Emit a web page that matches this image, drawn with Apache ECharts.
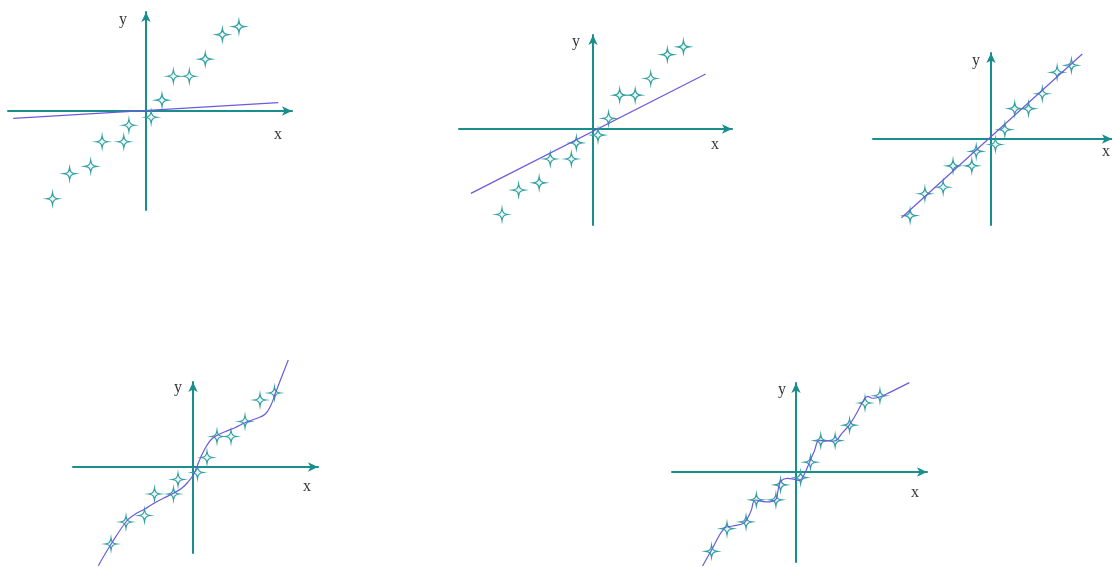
<!DOCTYPE html>
<html>
<head>
<meta charset="utf-8">
<script src="https://cdn.jsdelivr.net/npm/echarts@6/dist/echarts.min.js"></script>
<style>
  html, body { margin: 0; padding: 0; background: #ffffff; }
  #chart { width: 1112px; height: 567px; }
</style>
</head>
<body>
<div id="chart"></div>
<script>
// Training samples, shared by all five fits
const sampleX = [-8.2, -6.7, -4.85, -3.85, -1.95, -1.5, 0.45, 1.4, 2.4, 3.8, 5.2, 6.7, 8.15];
const sampleY = [-7.7, -5.5, -4.85, -2.7, -2.7, -1.25, -0.55, 0.95, 3.05, 3.05, 4.55, 6.7, 7.4];

// Fitted models: [x, y] pairs along each fitted curve
const fitFlat = [[-11.65, -0.64], [11.6, 0.73]];
const fitShallow = [[-11.0, -5.8], [10.15, 4.95]];
const fitLinear = [[-9.08, -7.91], [9.25, 8.54]];
const fitCubic = [
  [-9.47, -9.87], [-8.2, -7.73], [-6.63, -5.4], [-5.8, -4.73], [-4.8, -4.2],
  [-3.9, -3.63], [-2.97, -3.13], [-1.97, -2.63], [-1.13, -2.13], [-0.47, -1.47],
  [0.03, -0.8], [0.3, -0.2], [0.87, 1.2], [1.37, 2.13], [1.87, 2.8], [2.47, 3.2],
  [3.2, 3.53], [4.2, 3.93], [5.2, 4.43], [6.2, 4.8], [7.2, 5.27], [7.8, 6.2],
  [8.2, 7.27], [8.87, 9.03], [9.53, 10.7]
];
const fitWiggly = [
  [-9.07, -9.13], [-8.25, -7.67], [-6.96, -5.47], [-6.16, -5.24], [-5.02, -4.92],
  [-4.37, -3.79], [-3.95, -2.72], [-2.91, -2.91], [-2.01, -2.72], [-1.69, -1.52],
  [-1.46, -0.87], [-0.82, -0.61], [-0.17, -0.71], [0.32, -0.81], [0.81, -0.22],
  [1.29, 0.91], [1.78, 2.04], [2.26, 3.08], [3.07, 3.01], [3.72, 3.01],
  [4.52, 3.83], [5.17, 4.56], [5.83, 5.6], [6.53, 6.89], [6.95, 7.35],
  [7.44, 7.16], [8.09, 7.28], [9.06, 7.71], [11.0, 8.68]
];

const axisNames = ['x', 'y'];

// Layout of each panel: axis extents in px, origin in px, px per unit,
// and label offsets from the arrow tips
const panels = [
  { left: 8,   right: 292,  top: 12,  bottom: 210, ox: 146, oy: 111, k: 11.4, fit: fitFlat,    smooth: false, xLab: [-14, 24], yLab: [-23, 8] },
  { left: 459, right: 732,  top: 35,  bottom: 225, ox: 593, oy: 129, k: 11.1, fit: fitShallow, smooth: false, xLab: [-17, 16], yLab: [-17, 7] },
  { left: 873, right: 1114, top: 53,  bottom: 225, ox: 992, oy: 139, k: 9.95, fit: fitLinear,  smooth: false, xLab: [-6, 13],  yLab: [-15, 8] },
  { left: 73,  right: 318,  top: 382, bottom: 553, ox: 193, oy: 467, k: 10,   fit: fitCubic,   smooth: 0.4,   xLab: [-11, 20], yLab: [-15, 6] },
  { left: 672, right: 927,  top: 383, bottom: 562, ox: 796, oy: 472, k: 10.3, fit: fitWiggly,  smooth: 0.4,   xLab: [-12, 21], yLab: [-14, 7] }
];

const AXIS_COLOR = '#1a8d8d';
const FIT_COLOR = '#6b5bdc';
const STAR = 'path://M0,-10 C1,-3 3,-1 10,0 C3,1 1,3 0,10 C-1,3 -3,1 -10,0 C-3,-1 -1,-3 0,-10 Z';

const samples = sampleX.map((x, i) => [x, sampleY[i]]);

const grid = [], xAxis = [], yAxis = [], series = [];

panels.forEach((p, i) => {
  p.xMin = (p.left - p.ox) / p.k;
  p.xMax = (p.right - p.ox) / p.k;
  p.yMin = (p.oy - p.bottom) / p.k;
  p.yMax = (p.oy - p.top) / p.k;
  grid.push({ left: p.left, top: p.top, width: p.right - p.left, height: p.bottom - p.top, containLabel: false });
  const axisLine = { show: true, onZero: true, symbol: ['none', 'arrow'], symbolSize: [7, 10], lineStyle: { color: AXIS_COLOR, width: 2 } };
  const common = { gridIndex: i, type: 'value', axisLine, axisTick: { show: false }, axisLabel: { show: false }, splitLine: { show: false } };
  xAxis.push(Object.assign({ min: p.xMin, max: p.xMax }, common));
  yAxis.push(Object.assign({ min: p.yMin, max: p.yMax }, common));
  series.push({
    type: 'scatter', xAxisIndex: i, yAxisIndex: i, data: samples,
    symbol: STAR, symbolSize: 12, z: 3,
    itemStyle: { color: '#eaf7f7', borderColor: '#2f9f9f', borderWidth: 1.2, opacity: 1 }
  });
  series.push({
    type: 'line', xAxisIndex: i, yAxisIndex: i, data: p.fit,
    smooth: p.smooth, showSymbol: false, clip: false, z: 4,
    lineStyle: { color: FIT_COLOR, width: 1.2 }
  });
});

const chart = echarts.init(document.getElementById('chart'), null, { renderer: 'canvas' });
chart.setOption({ animation: false, backgroundColor: '#ffffff', grid, xAxis, yAxis, series });

// Axis letters placed next to the arrow tips
const labelStyle = { fontFamily: 'Liberation Serif', fontSize: 16, fill: '#333333', align: 'center', verticalAlign: 'middle' };
const graphic = [];
panels.forEach((p, i) => {
  const finder = { xAxisIndex: i, yAxisIndex: i };
  const xEnd = chart.convertToPixel(finder, [p.xMax, 0]);
  const yEnd = chart.convertToPixel(finder, [0, p.yMax]);
  graphic.push({ type: 'text', x: xEnd[0] + p.xLab[0], y: xEnd[1] + p.xLab[1], style: Object.assign({ text: axisNames[0] }, labelStyle) });
  graphic.push({ type: 'text', x: yEnd[0] + p.yLab[0], y: yEnd[1] + p.yLab[1], style: Object.assign({ text: axisNames[1] }, labelStyle) });
});
chart.setOption({ graphic });
</script>
</body>
</html>
